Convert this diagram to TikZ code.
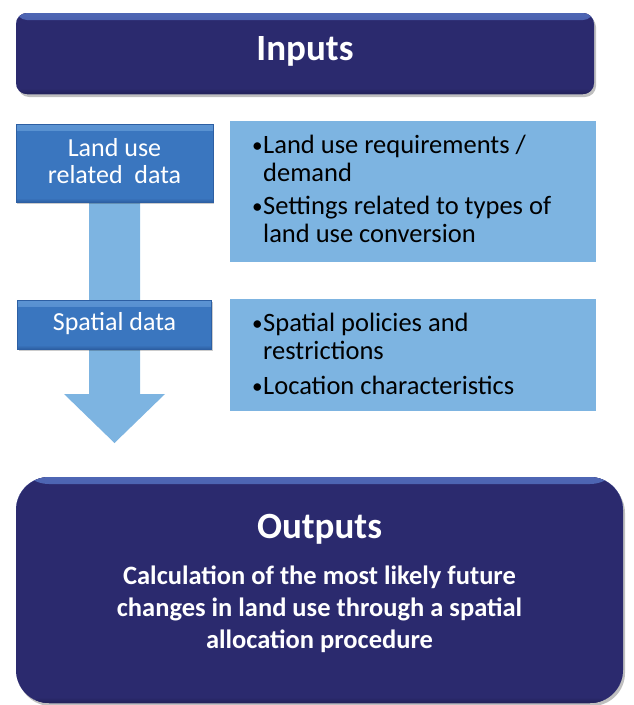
\documentclass[tikz,border=0pt]{standalone}
\usepackage{fontspec}
\setmainfont{Carlito}
\usetikzlibrary{shadows}
\definecolor{navy}{HTML}{2B2A6E}
\definecolor{navyL}{HTML}{4E66B4}
\definecolor{navyD}{HTML}{222159}
\definecolor{midblue}{HTML}{3A76BF}
\definecolor{midblueL}{HTML}{5C94D3}
\definecolor{midblueD}{HTML}{2D5FA3}
\definecolor{lightblue}{HTML}{7DB4E1}
\newcommand{\bul}{\makebox[12pt][l]{\hspace{1pt}\raisebox{0.5pt}{\scalebox{0.8}{\textbullet}}}}
\tikzset{
  navybox/.style={rectangle, fill=navy, inner sep=0pt,
    drop shadow={shadow xshift=2pt, shadow yshift=-3pt, opacity=0.25, fill=black},
    path picture={
      \fill[top color=navyL, bottom color=navy]
        (path picture bounding box.north west) rectangle ([yshift=-7pt]path picture bounding box.north east);
      \fill[top color=navy, bottom color=navyD]
        ([yshift=6pt]path picture bounding box.south west) rectangle (path picture bounding box.south east);
    }},
  midbox/.style={rectangle, fill=midblue, inner sep=0pt, draw=midblueD, line width=0.6pt,
    drop shadow={shadow xshift=1pt, shadow yshift=-1.5pt, opacity=0.2, fill=black},
    path picture={
      \fill[top color=midblueL, bottom color=midblue]
        (path picture bounding box.north west) rectangle ([yshift=-6pt]path picture bounding box.north east);
      \fill[top color=midblue, bottom color=midblueD]
        ([yshift=4pt]path picture bounding box.south west) rectangle (path picture bounding box.south east);
    }},
  lightbox/.style={rectangle, fill=lightblue, inner sep=0pt},
  whitetext/.style={text=white, inner sep=0pt},
  bodytext/.style={text=black, inner sep=0pt, anchor=base west, font=\fontsize{26.5}{28}\selectfont},
}
\begin{document}
\begin{tikzpicture}[x=1pt, y=-1pt]
\useasboundingbox (0,0) rectangle (634,705);

% Inputs
\node[navybox, rounded corners=11pt, minimum width=578pt, minimum height=81pt] (inputs) at (305,53.5) {};
\node[whitetext, anchor=base, font=\fontsize{37}{40}\selectfont\bfseries] (inputst) at (305,60) {Inputs};

% arrow
\coordinate (ashaft) at (114.5,201);
\fill[lightblue] (89,201) -- (140,201) -- (140,394) -- (165,394) -- (114.5,443) -- (64,394) -- (89,394) -- cycle;

% right light boxes
\node[lightbox, minimum width=366pt, minimum height=141pt] (rb1) at (413,191.5) {};
\node[bodytext] (rt1) at (251,153) {\begin{tabular}[t]{@{}l@{}l@{}}\bul&Land use requirements /\\&demand\\[5pt]\bul&Settings related to types of\\&land use conversion\end{tabular}};

\node[lightbox, minimum width=366pt, minimum height=112pt] (rb2) at (413,355) {};
\node[bodytext] (rt2) at (251,331) {\begin{tabular}[t]{@{}l@{}l@{}}\bul&Spatial policies and\\&restrictions\\[7pt]\bul&Location characteristics\end{tabular}};

% left medium boxes
\node[midbox, minimum width=197pt, minimum height=78pt] (lu) at (114.5,163) {};
\node[whitetext, anchor=base, font=\fontsize{26}{27}\selectfont] (lut) at (114.5,156) {\begin{tabular}[t]{@{}c@{}}Land use\\related\ \ data\end{tabular}};

\node[midbox, minimum width=194pt, minimum height=49pt] (sp) at (114.5,324.5) {};
\node[whitetext, anchor=base, font=\fontsize{26}{27}\selectfont] (spt) at (114.5,330) {Spatial data};

% Outputs
\node[navybox, rounded corners=33pt, minimum width=607pt, minimum height=226pt] (outputs) at (319.5,590) {};
\node[whitetext, anchor=base, font=\fontsize{37}{40}\selectfont\bfseries] (outputst) at (319.5,538) {Outputs};
\node[whitetext, anchor=base, font=\fontsize{26.5}{32}\selectfont\bfseries] (outputsb) at (319.5,584) {\begin{tabular}[t]{@{}c@{}}Calculation of the most likely future\\changes in land use through a spatial\\allocation procedure\end{tabular}};
\end{tikzpicture}
\end{document}
